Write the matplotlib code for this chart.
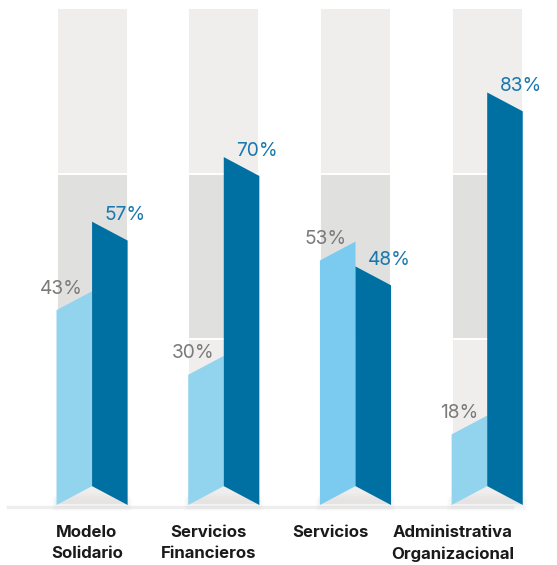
import matplotlib.pyplot as plt
from matplotlib.patches import Rectangle

# Data
categories = ['Modelo\nSolidario', 'Servicios\nFinancieros', 'Servicios', 'Administrativa\nOrganizacional']
light_values = [43, 30, 53, 18]
dark_values = [57, 70, 48, 83]

light_colors = ['#92D3EE', '#92D3EE', '#7BCBF0', '#92D3EE']
dark_color = '#0070A3'
bg_light = '#EFEEED'
bg_mid = '#E0E0DF'

w = 0.27     # half column width
s = 3.8      # slant of the folded ends

fig = plt.figure(figsize=(5.57, 5.65), dpi=100)
ax = fig.add_axes([0, 0, 1, 1])
ax.set_xlim(-0.699, 3.53)
ax.set_ylim(-12.07, 101.6)
ax.axis('off')

# baseline
ax.plot([-0.638, 3.19], [-0.4, -0.4], color='#EEEEEE', lw=2.5, zorder=1)

for i, (lv, dv) in enumerate(zip(light_values, dark_values)):
    # background bands
    bands = [(0, 100/3, bg_light), (100/3, 100/3, bg_mid), (200/3, 100/3, bg_light)]
    for y0, h, c in bands:
        ax.add_patch(Rectangle((i - w, y0), 2 * w, h, facecolor=c, edgecolor='white',
                               lw=1.4, zorder=1))

    # soft shadow at the bottom
    for k in range(5):
        ax.fill([i - w - 0.008 * k, i + w + 0.008 * k, i + w + 0.008 * k, i - w - 0.008 * k],
                [-0.5 - 0.2 * k, -0.5 - 0.2 * k, 2.5 - 0.3 * k, 2.5 - 0.3 * k],
                color='#A0A0A0', alpha=0.025, lw=0, zorder=2)

    # light bar (folded left half)
    ax.fill([i - w, i, i, i - w], [0, s, lv, lv - s], color=light_colors[i], lw=0, zorder=3)
    # dark bar (folded right half)
    ax.fill([i, i + w, i + w, i], [s, 0, dv - s, dv], color=dark_color, lw=0, zorder=3)

    ax.text(i - 0.068, lv + 0.5, f'{lv}%', ha='right', va='center', fontsize=13.8,
            color='#7A7A7A', family='Inter', zorder=4)
    ax.text(i + 0.095, dv + 1.3, f'{dv}%', ha='left', va='center', fontsize=13.8,
            color='#1878AD', family='Inter', zorder=4)

    ax.text(i * 0.925 - 0.04, -4.0, categories[i], ha='center', va='top', fontsize=12.1,
            fontweight='bold', color='#1A1A1A', family='Inter', linespacing=1.55)

fig.savefig('out.png', dpi=100)
